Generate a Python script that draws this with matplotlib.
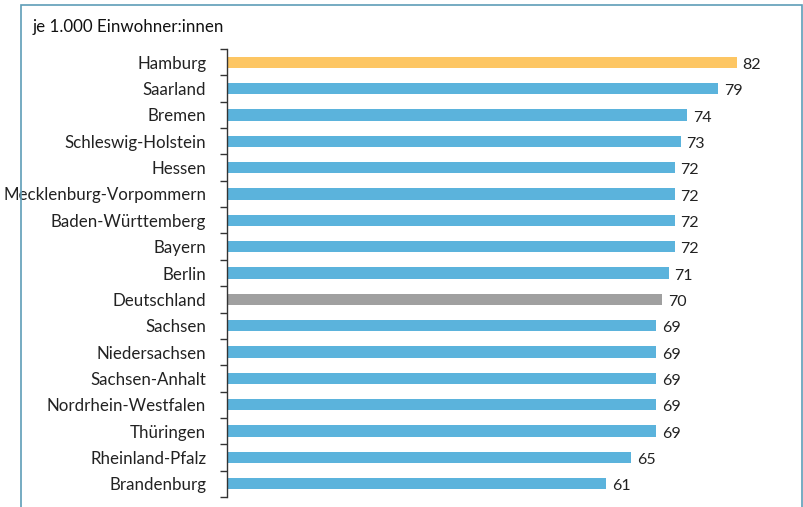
import matplotlib.pyplot as plt
from matplotlib.patches import Rectangle

# data, top to bottom as in the chart
laender = ["Hamburg", "Saarland", "Bremen", "Schleswig-Holstein", "Hessen",
           "Mecklenburg-Vorpommern", "Baden-Württemberg", "Bayern", "Berlin",
           "Deutschland", "Sachsen", "Niedersachsen", "Sachsen-Anhalt",
           "Nordrhein-Westfalen", "Thüringen", "Rheinland-Pfalz", "Brandenburg"]
werte = [82, 79, 74, 73, 72, 72, 72, 72, 71, 70, 69, 69, 69, 69, 69, 65, 61]

BLUE = "#5BB3DC"
ORANGE = "#FDC663"
GREY = "#A0A0A0"
FRAME = "#5E9DB8"

plt.rcParams['font.family'] = ['Lato', 'DejaVu Sans']

W, H = 804, 507
fig = plt.figure(figsize=(W / 100, H / 100), dpi=100)

# frame round the chart
fig.patches.append(Rectangle((21 / W, -0.05), (802 - 21) / W, 1.05 - 5 / H,
                             transform=fig.transFigure, fill=False,
                             edgecolor=FRAME, lw=1.2))

ax = fig.add_axes([227 / W, 1 - 497 / H, (800 - 227) / W, (497 - 49) / H])

colors = []
for name in laender:
    if name == "Hamburg":
        colors.append(ORANGE)
    elif name == "Deutschland":
        colors.append(GREY)
    else:
        colors.append(BLUE)

ypos = list(range(len(laender)))
ax.barh(ypos, werte, height=0.43, color=colors)
ax.set_ylim(len(laender) - 0.5, -0.5)
ax.set_xlim(0, 82 * 573 / 510)

for y, v in zip(ypos, werte):
    ax.text(v + 0.9, y + 0.1, str(v), va="center", ha="left",
            fontsize=11.5, color="#222222")

ax.set_yticks(ypos)
ax.set_yticklabels(laender, fontsize=12.2, color="#222222")
ax.tick_params(axis="y", which="major", length=0, pad=15)
ax.set_yticks([i - 0.5 for i in range(len(laender) + 1)], minor=True)
ax.tick_params(axis="y", which="minor", length=5, width=1, color="#333333")
ax.set_xticks([])

for side in ["top", "right", "bottom"]:
    ax.spines[side].set_visible(False)
ax.spines["left"].set_color("#333333")
ax.spines["left"].set_linewidth(1)

fig.text(33 / W, 1 - 27 / H, "je 1.000 Einwohner:innen", fontsize=12.2,
         va="center", ha="left", color="#111111")

fig.savefig("out.png", dpi=100)
